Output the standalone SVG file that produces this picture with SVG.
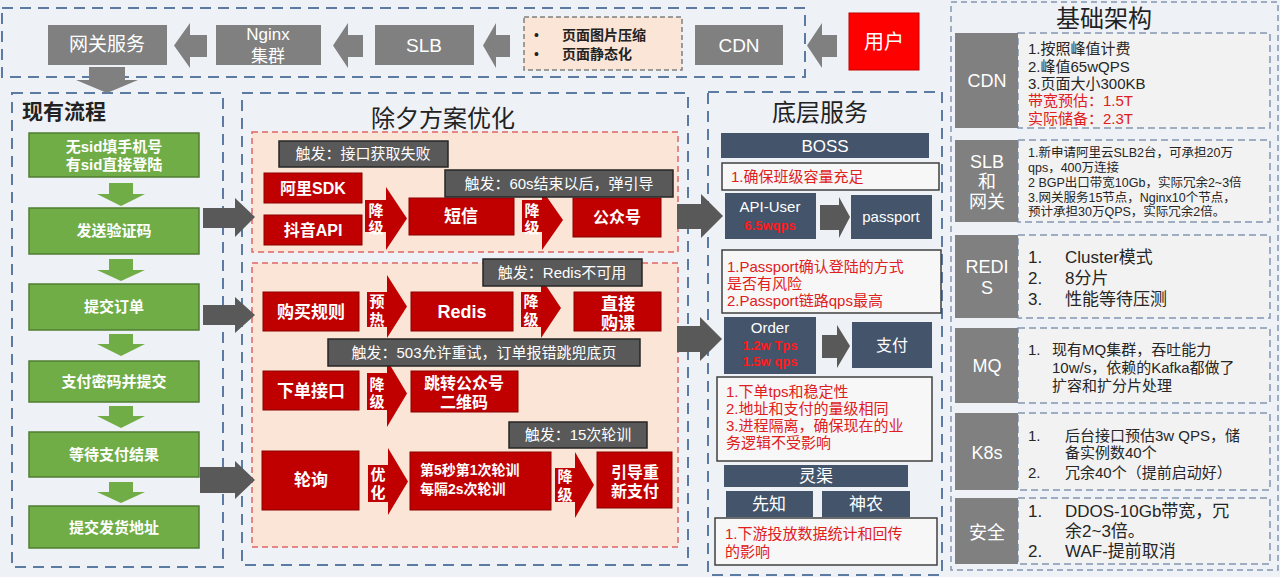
<svg xmlns="http://www.w3.org/2000/svg" width="1280" height="577" viewBox="0 0 1280 577">
<style>
text{font-family:"Liberation Sans","Noto Sans CJK SC",sans-serif;}
.cont{fill:none;stroke:#5b7ba3;stroke-width:2;stroke-dasharray:11 7;}
.gbox{fill:#808080;}
.gtxt{fill:#fff;font-size:19px;text-anchor:middle;}
.garrow{fill:#808080;}
.darrow{fill:#595959;}
.green{fill:#70ad47;stroke:#507e32;stroke-width:1.5;}
.gnarrow{fill:#70ad47;}
.wt{fill:#fff;font-size:15px;text-anchor:middle;font-weight:bold;}
.title{fill:#222;font-size:24px;text-anchor:middle;}
.rpanel{fill:#fbe5d6;stroke:#e06666;stroke-width:1.5;stroke-dasharray:6 4;}
.red{fill:#c00000;stroke:#8b0000;stroke-width:1;}
.rt{fill:#fff;font-size:16px;text-anchor:middle;font-weight:bold;}
.rarrow{fill:#c00000;}
.at{fill:#fff;font-size:15px;text-anchor:middle;font-weight:bold;}
.trig{fill:#595959;stroke:#262626;stroke-width:1.5;}
.tt{fill:#fff;font-size:15px;text-anchor:middle;}
.blue{fill:#44546a;}
.bt{fill:#fff;font-size:16px;text-anchor:middle;}
.note{fill:#f7f7f7;stroke:#404040;stroke-width:1.5;}
.nt{fill:#e02020;font-size:15px;}
.rd{fill:#ff1a1a;font-size:13px;text-anchor:middle;font-weight:bold;}
.ipanel{fill:#f2f2f2;stroke:#8497b0;stroke-width:1.5;stroke-dasharray:7 4;}
.it{fill:#262626;font-size:15px;}
.it17{fill:#262626;font-size:17px;}
.its{fill:#262626;font-size:12.5px;}
.itr{fill:#e02020;font-size:15px;}
</style>
<rect width="1280" height="577" fill="#eef1f5"/>

<!-- Top bar -->
<g id="top-container"><rect class="cont" x="2" y="8" width="803" height="69"/></g>
<g id="node-gateway"><rect class="gbox" x="48" y="25" width="119" height="40"/><text class="gtxt" x="107" y="51">网关服务</text></g>
<g id="node-nginx"><rect class="gbox" x="216" y="25" width="105" height="40"/><text class="gtxt" x="268" y="40" style="font-size:17px">Nginx</text><text class="gtxt" x="268" y="62" style="font-size:17px">集群</text></g>
<g id="node-slb"><rect class="gbox" x="375" y="25" width="99" height="40"/><text class="gtxt" x="424" y="52">SLB</text></g>
<g id="node-page"><rect x="524" y="17" width="158" height="53" fill="#fbe5d6" stroke="#808080" stroke-width="1.5" stroke-dasharray="5 3"/><text x="534" y="40" font-size="14" fill="#222">•</text><text x="562" y="40" font-size="14" fill="#222" font-weight="bold">页面图片压缩</text><text x="534" y="59" font-size="14" fill="#222">•</text><text x="562" y="59" font-size="14" fill="#222" font-weight="bold">页面静态化</text></g>
<g id="node-cdn"><rect class="gbox" x="695" y="25" width="88" height="40"/><text class="gtxt" x="739" y="52">CDN</text></g>
<g id="node-user"><rect x="849" y="13" width="70" height="57" fill="#ff0000" stroke="#c00000"/><text class="gtxt" x="884" y="49" style="font-size:20px">用户</text></g>

<!-- Left column -->
<g id="left-container"><rect class="cont" x="12" y="93" width="211" height="474"/><text x="22" y="119" font-size="21" font-weight="bold" fill="#222">现有流程</text></g>
<g id="step1"><rect class="green" x="29" y="133" width="170" height="44"/><text class="wt" x="114" y="152">无sid填手机号</text><text class="wt" x="114" y="170">有sid直接登陆</text></g>
<g id="step2"><rect class="green" x="29" y="208" width="170" height="46"/><text class="wt" x="114" y="236">发送验证码</text></g>
<g id="step3"><rect class="green" x="29" y="284" width="170" height="46"/><text class="wt" x="114" y="312">提交订单</text></g>
<g id="step4"><rect class="green" x="29" y="361" width="170" height="41"/><text class="wt" x="114" y="387">支付密码并提交</text></g>
<g id="step5"><rect class="green" x="29" y="432" width="170" height="45"/><text class="wt" x="114" y="460">等待支付结果</text></g>
<g id="step6"><rect class="green" x="29" y="506" width="170" height="42"/><text class="wt" x="114" y="533">提交发货地址</text></g>

<!-- Middle column -->
<g id="mid-container"><rect class="cont" x="242" y="93" width="446" height="472"/><text class="title" x="443" y="127">除夕方案优化</text></g>
<g id="panel1"><rect class="rpanel" x="252" y="132" width="426" height="120"/></g>
<g id="panel2"><rect class="rpanel" x="252" y="263" width="426" height="284"/></g>

<g id="node-ali"><rect class="red" x="264" y="173" width="98" height="30"/><text class="rt" x="313" y="194">阿里SDK</text></g>
<g id="node-douyin"><rect class="red" x="264" y="215" width="98" height="30"/><text class="rt" x="313" y="236">抖音API</text></g>
<g id="node-sms"><rect class="red" x="409" y="198" width="105" height="37"/><text class="rt" x="461" y="222" style="font-size:17px">短信</text></g>
<g id="node-gzh"><rect class="red" x="573" y="198" width="88" height="39"/><text class="rt" x="617" y="223">公众号</text></g>
<g id="node-rule"><rect class="red" x="263" y="292" width="96" height="39"/><text class="rt" x="311" y="318" style="font-size:17px">购买规则</text></g>
<g id="node-redis"><rect class="red" x="411" y="292" width="102" height="39"/><text class="rt" x="462" y="318" style="font-size:18px">Redis</text></g>
<g id="node-direct"><rect class="red" x="574" y="292" width="87" height="39"/><text class="rt" x="618" y="310" style="font-size:17px">直接</text><text class="rt" x="618" y="329" style="font-size:17px">购课</text></g>
<g id="node-order-api"><rect class="red" x="263" y="371" width="96" height="39"/><text class="rt" x="311" y="397" style="font-size:17px">下单接口</text></g>
<g id="node-qr"><rect class="red" x="411" y="371" width="107" height="41"/><text class="rt" x="464" y="389">跳转公众号</text><text class="rt" x="464" y="408">二维码</text></g>
<g id="node-poll"><rect class="red" x="262" y="451" width="97" height="59"/><text class="rt" x="311" y="486" style="font-size:17px">轮询</text></g>
<g id="node-poll-opt"><rect class="red" x="410" y="452" width="141" height="58"/><text x="420" y="475" fill="#fff" font-size="14" font-weight="bold">第5秒第1次轮训</text><text x="420" y="494" fill="#fff" font-size="14" font-weight="bold">每隔2s次轮训</text></g>
<g id="node-repay"><rect class="red" x="597" y="452" width="75" height="56"/><text class="rt" x="635" y="478">引导重</text><text class="rt" x="635" y="497">新支付</text></g>

<!-- Bottom services -->
<g id="svc-container"><rect class="cont" x="708" y="92" width="234" height="483"/><text class="title" x="820" y="121">底层服务</text></g>
<g id="node-boss"><rect class="blue" x="721" y="133" width="208" height="25"/><text class="bt" x="825" y="152" style="font-size:17px">BOSS</text></g>
<g id="note-boss"><rect class="note" x="722" y="163" width="217" height="27"/><text class="nt" x="731" y="182">1.确保班级容量充足</text></g>
<g id="node-apiuser"><rect class="blue" x="725" y="193" width="91" height="46"/><text class="bt" x="770" y="212" style="font-size:15px">API-User</text><text class="rd" x="770" y="230">6.5wqps</text></g>
<g id="node-passport"><rect class="blue" x="851" y="195" width="81" height="44"/><text class="bt" x="891" y="222" style="font-size:15px">passport</text></g>
<g id="note-passport"><rect class="note" x="722" y="250" width="219" height="63"/><text class="nt" x="727" y="272">1.Passport确认登陆的方式</text><text class="nt" x="727" y="289">是否有风险</text><text class="nt" x="727" y="306">2.Passport链路qps最高</text></g>
<g id="node-order"><rect class="blue" x="724" y="317" width="92" height="57"/><text class="bt" x="770" y="333" style="font-size:15px">Order</text><text class="rd" x="770" y="350">1.2w Tps</text><text class="rd" x="770" y="366">1.5w qps</text></g>
<g id="node-pay"><rect class="blue" x="852" y="322" width="80" height="46"/><text class="bt" x="892" y="351">支付</text></g>
<g id="note-order"><rect class="note" x="717" y="377" width="215" height="84"/><text class="nt" x="726" y="397">1.下单tps和稳定性</text><text class="nt" x="726" y="414">2.地址和支付的量级相同</text><text class="nt" x="726" y="431">3.进程隔离，确保现在的业</text><text class="nt" x="726" y="448">务逻辑不受影响</text></g>
<g id="node-lingqu"><rect class="blue" x="724" y="465" width="184" height="22"/><text class="bt" x="816" y="482" style="font-size:17px">灵渠</text></g>
<g id="node-xianzhi"><rect class="blue" x="726" y="491" width="87" height="26"/><text class="bt" x="769" y="510" style="font-size:17px">先知</text></g>
<g id="node-shennong"><rect class="blue" x="822" y="491" width="88" height="26"/><text class="bt" x="866" y="510" style="font-size:17px">神农</text></g>
<g id="note-lingqu"><rect class="note" x="715" y="518" width="222" height="47"/><text class="nt" x="725" y="539">1.下游投放数据统计和回传</text><text class="nt" x="725" y="557">的影响</text></g>

<!-- Right infrastructure -->
<g id="infra-container"><rect x="951" y="2" width="327" height="568" fill="none" stroke="#8497b0" stroke-width="1.5" stroke-dasharray="6 4"/><text class="title" x="1104" y="27">基础架构</text></g>
<g id="infra-cdn"><rect class="ipanel" x="1018" y="33" width="252" height="95"/><rect class="gbox" x="955" y="33" width="63" height="95"/><text class="gtxt" x="987" y="87" style="font-size:18px">CDN</text>
<text class="it" x="1028" y="54">1.按照峰值计费</text><text class="it" x="1028" y="72">2.峰值65wQPS</text><text class="it" x="1028" y="89">3.页面大小300KB</text><text class="itr" x="1028" y="106">带宽预估：1.5T</text><text class="itr" x="1028" y="124">实际储备：2.3T</text></g>
<g id="infra-slb"><rect class="ipanel" x="1018" y="140" width="252" height="82"/><rect class="gbox" x="955" y="140" width="63" height="82"/><text class="gtxt" x="987" y="168" style="font-size:18px">SLB</text><text class="gtxt" x="987" y="188" style="font-size:18px">和</text><text class="gtxt" x="987" y="208" style="font-size:18px">网关</text>
<text class="its" x="1028" y="157">1.新申请阿里云SLB2台，可承担20万</text><text class="its" x="1028" y="172">qps，400万连接</text><text class="its" x="1028" y="187">2 BGP出口带宽10Gb，实际冗余2~3倍</text><text class="its" x="1028" y="202">3.网关服务15节点，Nginx10个节点，</text><text class="its" x="1028" y="216">预计承担30万QPS，实际冗余2倍。</text></g>
<g id="infra-redis"><rect class="ipanel" x="1018" y="235" width="252" height="83"/><rect class="gbox" x="955" y="235" width="63" height="83"/><text class="gtxt" x="987" y="273" style="font-size:18px">REDI</text><text class="gtxt" x="987" y="294" style="font-size:18px">S</text>
<text class="it17" x="1028" y="263">1.</text><text class="it17" x="1065" y="263">Cluster模式</text><text class="it17" x="1028" y="284">2.</text><text class="it17" x="1065" y="284">8分片</text><text class="it17" x="1028" y="305">3.</text><text class="it17" x="1065" y="305">性能等待压测</text></g>
<g id="infra-mq"><rect class="ipanel" x="1018" y="328" width="252" height="75"/><rect class="gbox" x="955" y="328" width="63" height="75"/><text class="gtxt" x="987" y="372" style="font-size:18px">MQ</text>
<text class="it" x="1028" y="355">1.</text><text class="it" x="1052" y="355">现有MQ集群，吞吐能力</text><text class="it" x="1052" y="373">10w/s，依赖的Kafka都做了</text><text class="it" x="1052" y="391">扩容和扩分片处理</text></g>
<g id="infra-k8s"><rect class="ipanel" x="1018" y="413" width="252" height="77"/><rect class="gbox" x="955" y="413" width="63" height="77"/><text class="gtxt" x="987" y="459" style="font-size:18px">K8s</text>
<text class="it" x="1028" y="441">1.</text><text class="it" x="1065" y="441">后台接口预估3w QPS，储</text><text class="it" x="1065" y="458">备实例数40个</text><text class="it" x="1028" y="478">2.</text><text class="it" x="1065" y="478">冗余40个（提前启动好）</text></g>
<g id="infra-security"><rect class="ipanel" x="1018" y="498" width="252" height="66"/><rect class="gbox" x="955" y="498" width="63" height="66"/><text class="gtxt" x="987" y="539" style="font-size:18px">安全</text>
<text class="it17" x="1028" y="517">1.</text><text class="it17" x="1065" y="517">DDOS-10Gb带宽，冗</text><text class="it17" x="1065" y="537">余2~3倍。</text><text class="it17" x="1028" y="557">2.</text><text class="it17" x="1065" y="557">WAF-提前取消</text></g>

<!-- Connectors -->
<g id="connectors">
  <path class="garrow" d="M207 35 H190 V23 L174 45.5 L190 68 V57 H207 Z"/>
  <path class="garrow" d="M363 35 H348 V23 L333 45.5 L348 68 V57 H363 Z"/>
  <path class="garrow" d="M510 35 H496 V23 L483 45.5 L496 68 V57 H510 Z"/>
  <path class="garrow" d="M837 35 H822 V23 L807 45.5 L822 68 V57 H837 Z"/>
  <path class="garrow" d="M89 67 H125 V80 H138 L107 93 L76 80 H89 Z"/>
  <path class="gnarrow" d="M109 183 H133 V194 H145 L121 206 L97 194 H109 Z"/>
  <path class="gnarrow" d="M109 259 H133 V270 H145 L121 281 L97 270 H109 Z"/>
  <path class="gnarrow" d="M109 334 H133 V344 H145 L121 356 L97 344 H109 Z"/>
  <path class="gnarrow" d="M109 406 H133 V416 H145 L121 428 L97 416 H109 Z"/>
  <path class="gnarrow" d="M109 482 H133 V492 H145 L121 503 L97 492 H109 Z"/>
  <path class="darrow" d="M203 208 H235 V198 L255 217 L235 237 V228 H203 Z"/>
  <path class="darrow" d="M203 305 H235 V297 L255 315 L235 333 V325 H203 Z"/>
  <path class="darrow" d="M200 467 H235 V461 L255 480 L235 499 V493 H200 Z"/>
  <path class="darrow" d="M677 204 H701 V194 L723 216 L701 238 V229 H677 Z"/>
  <path class="darrow" d="M677 326 H700 V317 L722 339 L700 361 V352 H677 Z"/>
  <path class="darrow" d="M820 205 H839 V197 L850 217 L839 238 V230 H820 Z"/>
  <path class="darrow" d="M822 335 H837 V325 L850 346 L837 368 V358 H822 Z"/>
  <path class="rarrow" d="M365 200 H386 V187 L407 218.5 L386 250 V232 H365 Z"/>
  <text class="at" x="376" y="216">降</text><text class="at" x="376" y="233">级</text>
  <path class="rarrow" d="M522 200 H542 V190 L563 220 L542 250 V232 H522 Z"/>
  <text class="at" x="532" y="216">降</text><text class="at" x="532" y="233">级</text>
  <path class="rarrow" d="M367 292 H387 V275 L407 306.5 L387 338 V327 H367 Z"/>
  <text class="at" x="377" y="307">预</text><text class="at" x="377" y="325">热</text>
  <path class="rarrow" d="M521 292 H541 V278 L561 308 L541 338 V327 H521 Z"/>
  <text class="at" x="531" y="307">降</text><text class="at" x="531" y="325">级</text>
  <path class="rarrow" d="M367 373 H387 V360 L407 393.5 L387 427 V410 H367 Z"/>
  <text class="at" x="377" y="390">降</text><text class="at" x="377" y="407">级</text>
  <path class="rarrow" d="M368 465 H388 V448 L408 481.5 L388 515 V502 H368 Z"/>
  <text class="at" x="378" y="480">优</text><text class="at" x="378" y="498">化</text>
  <path class="rarrow" d="M555 468 H575 V452 L594 485 L575 518 V502 H555 Z"/>
  <text class="at" x="565" y="482">降</text><text class="at" x="565" y="500">级</text>
</g>

<!-- Trigger labels -->
<g id="trigger1"><rect class="trig" x="279" y="141" width="169" height="26"/><text class="tt" x="363" y="159">触发：接口获取失败</text></g>
<g id="trigger2"><rect class="trig" x="445" y="170" width="228" height="27"/><text class="tt" x="559" y="189">触发：60s结束以后，弹引导</text></g>
<g id="trigger3"><rect class="trig" x="483" y="259" width="159" height="27"/><text class="tt" x="562" y="278">触发：Redis不可用</text></g>
<g id="trigger4"><rect class="trig" x="328" y="339" width="312" height="27"/><text class="tt" x="484" y="358">触发：503允许重试，订单报错跳兜底页</text></g>
<g id="trigger5"><rect class="trig" x="509" y="422" width="138" height="26"/><text class="tt" x="578" y="440">触发：15次轮训</text></g>
</svg>
